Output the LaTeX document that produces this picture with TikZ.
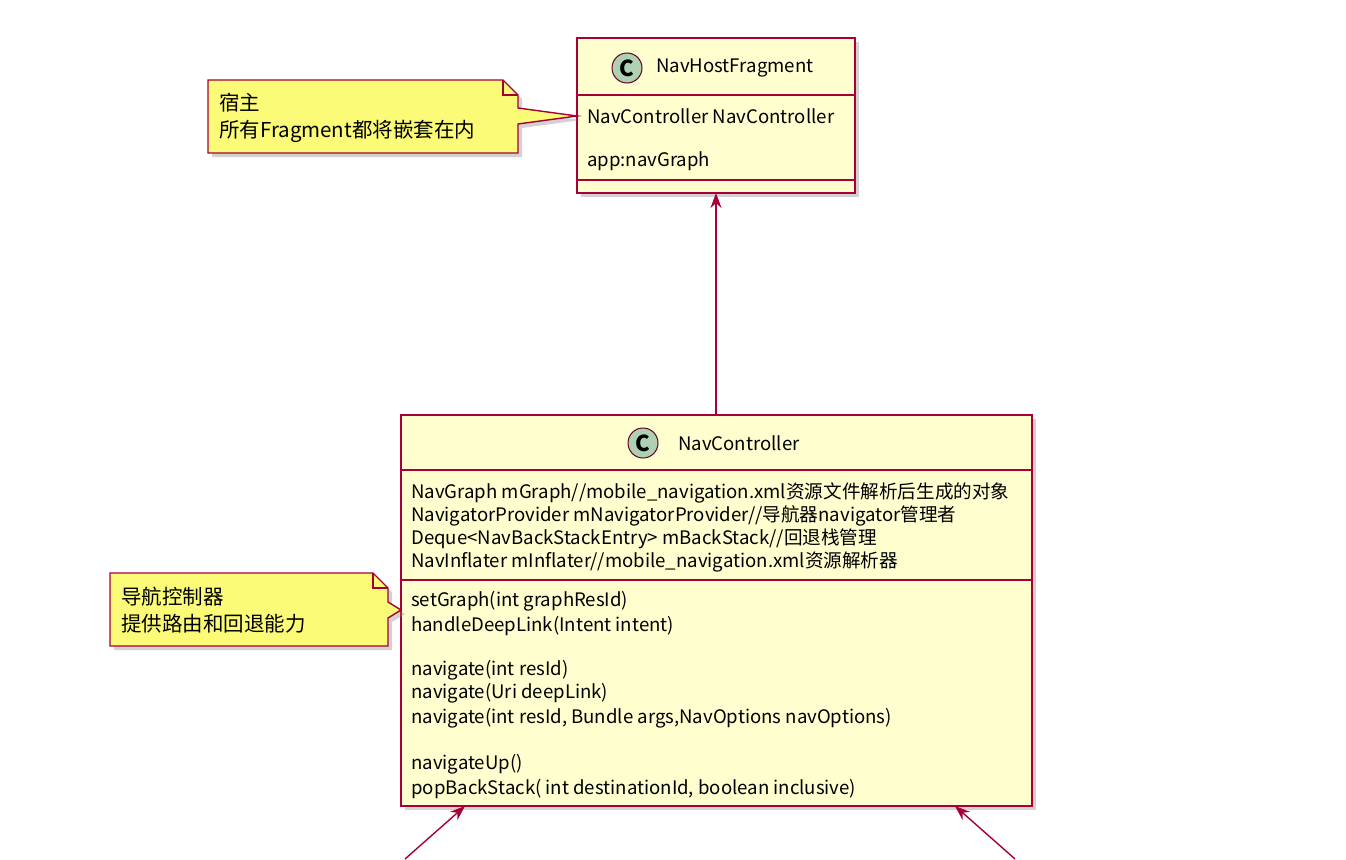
\documentclass[tikz,border=0pt]{standalone}
\usepackage{fontspec}
\setmainfont{Noto Sans CJK SC}
\usetikzlibrary{shadows,arrows.meta,shapes.misc}
\definecolor{cfill}{HTML}{FEFECE}
\definecolor{cline}{HTML}{A80036}
\definecolor{nfill}{HTML}{FBFB77}
\definecolor{cicon}{HTML}{ADD1B2}
\tikzset{
  cls/.style={draw=cline,fill=cfill,line width=1.8pt,drop shadow={shadow xshift=4pt,shadow yshift=-4pt,opacity=0.35}},
  txt/.style={anchor=west,inner sep=0pt,font=\fontsize{18.6}{22}\selectfont},
  ntxt/.style={anchor=west,inner sep=0pt,font=\fontsize{20.5}{24}\selectfont},
  icon/.style={circle,draw=cline!60!black,fill=cicon,line width=1pt,minimum size=30pt,inner sep=0pt,font=\fontsize{22}{22}\bfseries\selectfont},
  sep/.style={draw=cline,line width=1.8pt},
  notebox/.style={draw=cline,fill=nfill,line width=1.4pt,drop shadow={shadow xshift=4pt,shadow yshift=-4pt,opacity=0.35}},
  arr/.style={draw=cline,line width=1.4pt,-{Stealth[length=15pt,width=11pt]}}
}
\begin{document}
\begin{tikzpicture}[x=1pt,y=-1pt]
\useasboundingbox[fill=white] (0,0) rectangle (1346,859);
% NavHostFragment
\path[cls] (577,38) rectangle (855,193);
\coordinate (hostB) at (716,193);
\draw[sep] (577,95) -- (855,95);
\draw[sep] (577,180) -- (855,180);
\node[icon] (ic1) at (627,68) {C};
\node[txt] (t1) at (656,68) {NavHostFragment};
\node[txt] (h1) at (587,116) {NavController NavController};
\node[txt] (h2) at (587,161) {app:navGraph};
% NavController
\path[cls] (401,415) rectangle (1032,806);
\coordinate (ncT) at (716,415);
\draw[sep] (401,470) -- (1032,470);
\draw[sep] (401,580) -- (1032,580);
\node[icon] (ic2) at (643,443) {C};
\node[txt] (t2) at (678,443) {NavController};
\node[txt] (f1) at (411,493) {NavGraph mGraph//mobile\_navigation.xml资源文件解析后生成的对象};
\node[txt] (f2) at (411,516) {NavigatorProvider mNavigatorProvider//导航器navigator管理者};
\node[txt] (f3) at (411,539) {Deque<NavBackStackEntry> mBackStack//回退栈管理};
\node[txt] (f4) at (411,562) {NavInflater mInflater//mobile\_navigation.xml资源解析器};
\node[txt] (m1) at (411,601) {setGraph(int graphResId)};
\node[txt] (m2) at (411,626) {handleDeepLink(Intent intent)};
\node[txt] (m3) at (411,670) {navigate(int resId)};
\node[txt] (m4) at (411,693) {navigate(Uri deepLink)};
\node[txt] (m5) at (411,718) {navigate(int resId, Bundle args,NavOptions navOptions)};
\node[txt] (m6) at (411,764) {navigateUp()};
\node[txt] (m7) at (411,789) {popBackStack( int destinationId, boolean inclusive)};
% Note 1
\path[notebox] (208,80) -- (503,80) -- (518,95) -- (518,108) -- (577,116) -- (518,124) -- (518,153) -- (208,153) -- cycle;
\draw[cline,line width=1.4pt] (503,80) -- (503,95) -- (518,95);
\node[ntxt] (n1a) at (219,103) {宿主};
\node[ntxt] (n1b) at (219,131) {所有Fragment都将嵌套在内};
% Note 2
\path[notebox] (110,573) -- (373,573) -- (388,588) -- (388,602) -- (401,610) -- (388,618) -- (388,646) -- (110,646) -- cycle;
\draw[cline,line width=1.4pt] (373,573) -- (373,588) -- (388,588);
\node[ntxt] (n2a) at (121,597) {导航控制器};
\node[ntxt] (n2b) at (121,624) {提供路由和回退能力};
% arrows
\draw[arr] (ncT) -- (hostB);
\coordinate (b1s) at (405,859);
\coordinate (b1e) at (465,806);
\coordinate (b2s) at (1015,859);
\coordinate (b2e) at (955,806);
\draw[arr] (b1s) -- (b1e);
\draw[arr] (b2s) -- (b2e);
\end{tikzpicture}
\end{document}
